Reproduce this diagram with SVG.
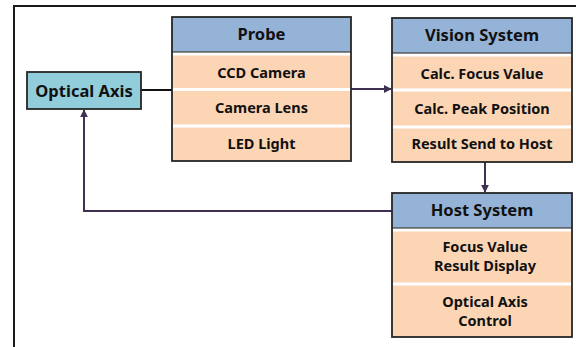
<svg xmlns="http://www.w3.org/2000/svg" width="576" height="347" viewBox="0 0 576 347">
<style>
.box{stroke:#262626;stroke-width:1.8}
.hdr{fill:#95b3d7}
.item{fill:#fcd5b5}
.sep{stroke:#ffffff;stroke-width:3}
.hsep{stroke:#262626;stroke-width:1.2}
text{font-family:"Noto Sans","DejaVu Sans",sans-serif;font-weight:bold;fill:#111;text-anchor:middle}
.h{font-size:16.5px}
.t{font-size:14.5px}
.conn{fill:none;stroke-width:2}
</style>
<defs>
<marker id="ah" viewBox="0 0 10 10" refX="9" refY="5" markerWidth="4" markerHeight="4" orient="auto" markerUnits="strokeWidth">
<path d="M0,0 L10,5 L0,10 z" fill="#403152"/>
</marker>
</defs>
<rect width="576" height="347" fill="#ffffff"/>
<path d="M14,347 V6 H576" fill="none" stroke="#1a1a1a" stroke-width="2"/>

<g id="connectors">
<line class="conn" x1="141" y1="90" x2="172" y2="90" stroke="#111"/>
<line class="conn" x1="351" y1="89" x2="391" y2="89" stroke="#403152" marker-end="url(#ah)"/>
<line class="conn" x1="485" y1="162" x2="485" y2="192" stroke="#403152" marker-end="url(#ah)"/>
<path class="conn" d="M392,211 H84 V110" stroke="#403152" marker-end="url(#ah)"/>
</g>

<g id="optical-axis">
<rect x="27" y="72" width="114" height="37" fill="#92cddc" class="box"/>
<text class="h" x="84" y="96.5">Optical Axis</text>
</g>

<g id="probe">
<rect x="172" y="17" width="179" height="144" class="item"/>
<rect x="172" y="17" width="179" height="35" class="hdr"/>
<line x1="172" y1="54" x2="351" y2="54" class="sep"/>
<line x1="172" y1="89.5" x2="351" y2="89.5" class="sep"/>
<line x1="172" y1="126" x2="351" y2="126" class="sep"/>
<line x1="172" y1="52" x2="351" y2="52" class="hsep"/>
<rect x="172" y="17" width="179" height="144" fill="none" class="box"/>
<text class="h" x="261.5" y="40">Probe</text>
<text class="t" x="261.5" y="78">CCD Camera</text>
<text class="t" x="261.5" y="113">Camera Lens</text>
<text class="t" x="261.5" y="149">LED Light</text>
</g>

<g id="vision-system">
<rect x="392" y="18" width="180" height="144" class="item"/>
<rect x="392" y="18" width="180" height="35" class="hdr"/>
<line x1="392" y1="55" x2="572" y2="55" class="sep"/>
<line x1="392" y1="90" x2="572" y2="90" class="sep"/>
<line x1="392" y1="127" x2="572" y2="127" class="sep"/>
<line x1="392" y1="53" x2="572" y2="53" class="hsep"/>
<rect x="392" y="18" width="180" height="144" fill="none" class="box"/>
<text class="h" x="482" y="40.5">Vision System</text>
<text class="t" x="482" y="79">Calc. Focus Value</text>
<text class="t" x="482" y="113.5">Calc. Peak Position</text>
<text class="t" x="482" y="149">Result Send to Host</text>
</g>

<g id="host-system">
<rect x="392" y="193" width="180" height="144" class="item"/>
<rect x="392" y="193" width="180" height="35" class="hdr"/>
<line x1="392" y1="230" x2="572" y2="230" class="sep"/>
<line x1="392" y1="284" x2="572" y2="284" class="sep"/>
<line x1="392" y1="228" x2="572" y2="228" class="hsep"/>
<rect x="392" y="193" width="180" height="144" fill="none" class="box"/>
<text class="h" x="482" y="216">Host System</text>
<text class="t" x="485" y="252">Focus Value</text>
<text class="t" x="485" y="271">Result Display</text>
<text class="t" x="485" y="307">Optical Axis</text>
<text class="t" x="485" y="326">Control</text>
</g>
</svg>
